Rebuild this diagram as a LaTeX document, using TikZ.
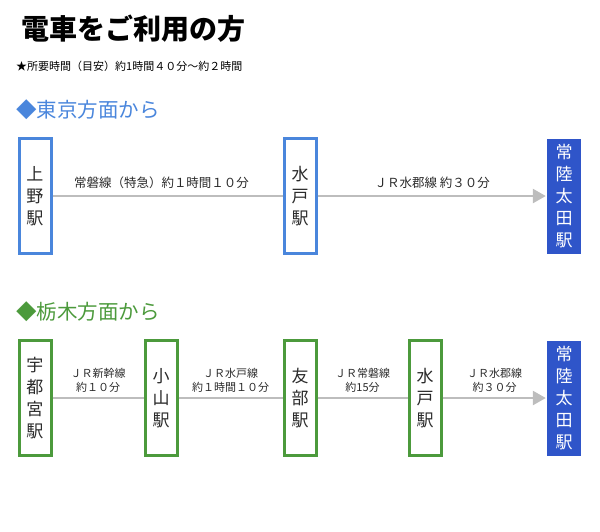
\documentclass[tikz,border=0pt]{standalone}
\usepackage{fontspec}
\setmainfont{Noto Sans CJK JP}
\newfontfamily\cjk{Noto Sans CJK JP}
\usetikzlibrary{arrows.meta}

\definecolor{tokyoblue}{HTML}{4A86DC}
\definecolor{tochigigreen}{HTML}{4C9A3C}
\definecolor{goalblue}{HTML}{2F55C9}
\definecolor{railgray}{HTML}{BDBDBD}
\definecolor{inkgray}{HTML}{2A2A2A}

\tikzset{
  station/.style={draw, line width=3pt, fill=white, minimum width=32pt,
    minimum height=115pt, inner sep=0pt, align=center, text=inkgray,
    font=\cjk\fontsize{17}{22}\selectfont},
  goal/.style={fill=goalblue, minimum width=34pt, minimum height=115pt,
    inner sep=0pt, align=center, text=white,
    font=\cjk\fontsize{17}{22}\selectfont},
  rail/.style={draw=railgray, line width=2.5pt},
  railend/.style={rail, -{Triangle[length=13pt,width=14pt]}, shorten >=1pt},
  routelabel/.style={text=inkgray, align=center, inner sep=0pt}
}

\begin{document}
\begin{tikzpicture}[x=1pt, y=-1pt]
    \useasboundingbox (0,0) rectangle (600,531);

    % headings
    \node[anchor=west, text=black, inner sep=0pt] (title) at (21,29)
      {\cjk\fontsize{28}{30}\selectfont\bfseries 電車をご利用の方};
    \node[anchor=west, text=black, inner sep=0pt] (time) at (16,66)
      {\cjk\fontsize{11}{12}\selectfont ★所要時間（目安）約1時間４０分〜約２時間};
    \node[anchor=west, text=tokyoblue, inner sep=0pt] (fromtokyo) at (16,110)
      {\cjk\fontsize{20.5}{22}\selectfont ◆東京方面から};
    \node[anchor=west, text=tochigigreen, inner sep=0pt] (fromtochigi) at (16,312)
      {\cjk\fontsize{20.5}{22}\selectfont ◆栃木方面から};

    % from Tokyo
    \node[station, draw=tokyoblue] (ueno) at (35,196) {上\\野\\駅};
    \node[station, draw=tokyoblue] (mitoA) at (300,196) {水\\戸\\駅};
    \node[goal] (otaA) at (564,196) {常\\陸\\太\\田\\駅};
    \draw[rail] (ueno) -- (mitoA)
      node[routelabel, midway, above=6pt, xshift=-6pt,
        font=\cjk\fontsize{12.5}{14}\selectfont]
      {常磐線（特急）約１時間１０分};
    \draw[railend] (mitoA) -- (otaA)
      node[routelabel, midway, above=6pt, font=\cjk\fontsize{12.5}{14}\selectfont]
      {ＪＲ水郡線 約３０分};

    % from Tochigi
    \node[station, draw=tochigigreen] (utsunomiya) at (35,398) {宇\\都\\宮\\駅};
    \node[station, draw=tochigigreen] (oyama) at (161,398) {小\\山\\駅};
    \node[station, draw=tochigigreen] (tomobe) at (300,398) {友\\部\\駅};
    \node[station, draw=tochigigreen] (mitoB) at (425,398) {水\\戸\\駅};
    \node[goal] (otaB) at (564,398) {常\\陸\\太\\田\\駅};
    \foreach \a/\b/\line/\mins in {utsunomiya/oyama/ＪＲ新幹線/約１０分,
        oyama/tomobe/ＪＲ水戸線/約１時間１０分,
        tomobe/mitoB/ＪＲ常磐線/約15分}
      \draw[rail] (\a) -- (\b)
        node[routelabel, midway, above=4.5pt, font=\cjk\fontsize{11}{14}\selectfont]
        {\line\\\mins};
    \draw[railend] (mitoB) -- (otaB)
      node[routelabel, midway, above=4.5pt, font=\cjk\fontsize{11}{14}\selectfont]
      {ＪＲ水郡線\\約３０分};
  \end{tikzpicture}
\end{document}
